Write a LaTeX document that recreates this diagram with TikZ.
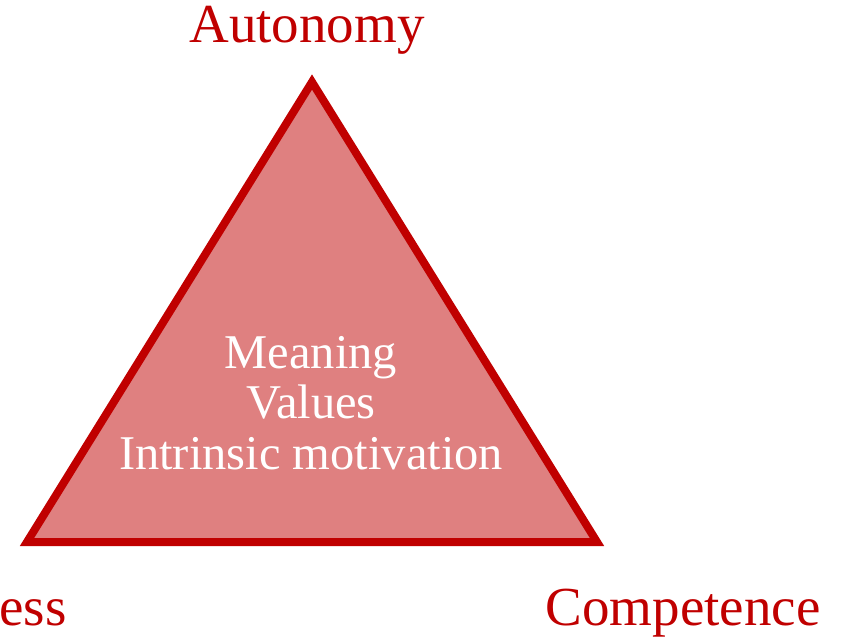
\documentclass[tikz,border=0pt]{standalone}
\usepackage{fontspec}
\setmainfont{Liberation Serif}
\usetikzlibrary{positioning}
\definecolor{darkred}{HTML}{C00000}
\definecolor{softred}{HTML}{DF8080}

\begin{document}
\begin{tikzpicture}[x=1pt, y=-1pt,
	pole/.style = { text=darkred, font=\fontsize{55}{60}\selectfont,
	anchor=base, inner sep=0pt },
	hub/.style = { text=white, align=center, inner sep=0pt,
	font=\fontsize{48.5}{50.5}\selectfont } ]

  \useasboundingbox (0,0) rectangle (856,642);
  \clip (0,0) rectangle (856,642);

  % the triangle
  \coordinate (apex) at (312,82);
  \coordinate (left) at (27,542);
  \coordinate (right) at (597,542);
  \filldraw [fill=softred, draw=darkred, line width=8pt]
	(apex) -- (left) -- (right) -- cycle;

  \node [name=autonomy, pole] at (307,43) { Autonomy };
  \node [name=competence, pole] at (683,625) { Competence };
  \node [name=relatedness, pole, anchor=base west] at (-1,625) { ess };
  \node [name=core, hub] at (311,403)
	{ Meaning\\Values\\Intrinsic motivation };
\end{tikzpicture}
\end{document}
